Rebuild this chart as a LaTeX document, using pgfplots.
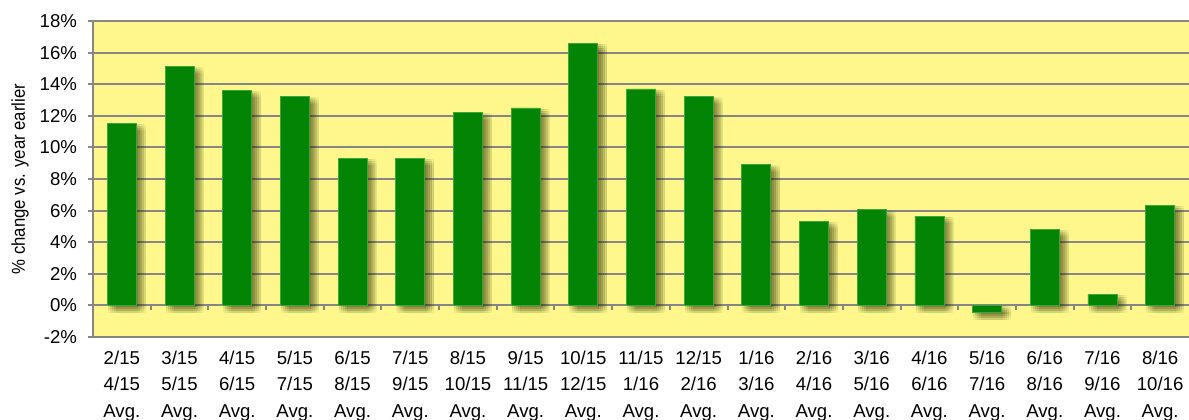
\documentclass[border=0pt]{standalone}
\usepackage{pgfplots}
\pgfplotsset{compat=1.18}
\usepackage{fontspec}
\setmainfont{Liberation Sans}
\newfontfamily\narrowfont[FakeStretch=0.9]{Liberation Sans}
\definecolor{bg}{RGB}{255,246,140}
\definecolor{bargreen}{RGB}{4,132,4}
\definecolor{baredge}{RGB}{60,165,60}
\definecolor{gridgray}{RGB}{134,134,134}
\definecolor{shadowcol}{RGB}{50,40,0}
\tikzset{
  sh/.style 2 args={preaction={fill=shadowcol, opacity=0.04, transform canvas={xshift=#1pt,yshift=#2pt}}},
  barshadow/.style={
    sh={0.5}{-0.5}, sh={1.5}{-0.5}, sh={2.5}{-0.5}, sh={3.5}{-0.5}, sh={4.5}{-0.5},
    sh={0.5}{-1.5}, sh={1.5}{-1.5}, sh={2.5}{-1.5}, sh={3.5}{-1.5}, sh={4.5}{-1.5},
    sh={0.5}{-2.5}, sh={1.5}{-2.5}, sh={2.5}{-2.5}, sh={3.5}{-2.5}, sh={4.5}{-2.5},
    sh={0.5}{-3.5}, sh={1.5}{-3.5}, sh={2.5}{-3.5}, sh={3.5}{-3.5}, sh={4.5}{-3.5}
  }
}
\begin{document}
\begin{tikzpicture}
\begin{axis}[
  scale only axis,
  width=548pt, height=158pt,
  xmin=-0.5, xmax=18.5,
  ymin=-2, ymax=18,
  axis x line*=bottom, axis y line*=left,
  axis line style={-, draw=gridgray, line width=1pt},
  axis background/.style={fill=bg},
  ytick={-2,0,...,18},
  yticklabels={-2\%,0\%,2\%,4\%,6\%,8\%,10\%,12\%,14\%,16\%,18\%},
  ymajorgrids,
  grid style={draw=gridgray, line width=1pt},
  y tick style={draw=gridgray, line width=1pt},
  x tick style={draw=none},
  tick align=outside,
  major tick length=2.5pt,
  tick label style={font=\fontsize{9.3}{13.25}\selectfont},
  yticklabel style={xshift=-2pt},
  xtick={0,...,18},
  xticklabels={
    2/15\\4/15\\Avg., 3/15\\5/15\\Avg., 4/15\\6/15\\Avg., 5/15\\7/15\\Avg.,
    6/15\\8/15\\Avg., 7/15\\9/15\\Avg., 8/15\\10/15\\Avg., 9/15\\11/15\\Avg.,
    10/15\\12/15\\Avg., 11/15\\1/16\\Avg., 12/15\\2/16\\Avg., 1/16\\3/16\\Avg.,
    2/16\\4/16\\Avg., 3/16\\5/16\\Avg., 4/16\\6/16\\Avg., 5/16\\7/16\\Avg.,
    6/16\\8/16\\Avg., 7/16\\9/16\\Avg., 8/16\\10/16\\Avg.},
  xticklabel style={align=center, yshift=-0.9pt},
  every axis y label/.style={at={(rel axis cs:-0.0666,0.5)}, rotate=90, anchor=center,
    font=\narrowfont\fontsize{9.3}{11}\selectfont},
  ylabel={\% change vs. year earlier},
  clip=false,
]
\addplot[ybar, bar width=14.5pt, fill=bargreen, draw=baredge, line width=0.4pt, barshadow]
coordinates {
(0,11.5) (1,15.1) (2,13.6) (3,13.2) (4,9.3) (5,9.3) (6,12.2) (7,12.5)
(8,16.6) (9,13.7) (10,13.2) (11,8.9) (12,5.3) (13,6.05) (14,5.65)
(15,-0.45) (16,4.8) (17,0.7) (18,6.35)
};
\pgfplotsinvokeforeach{0.5,1.5,...,17.5}{
  \draw[gridgray, line width=1pt] (axis cs:#1,0) -- ([yshift=-2.5pt]axis cs:#1,0);
}
\coordinate (sw) at (rel axis cs:0,0);
\coordinate (ne) at (rel axis cs:1,1);
\end{axis}
\pgfresetboundingbox
\path ([shift={(-46.5pt,-41pt)}]sw) rectangle ([yshift=10.5pt]ne);
\end{tikzpicture}
\end{document}
